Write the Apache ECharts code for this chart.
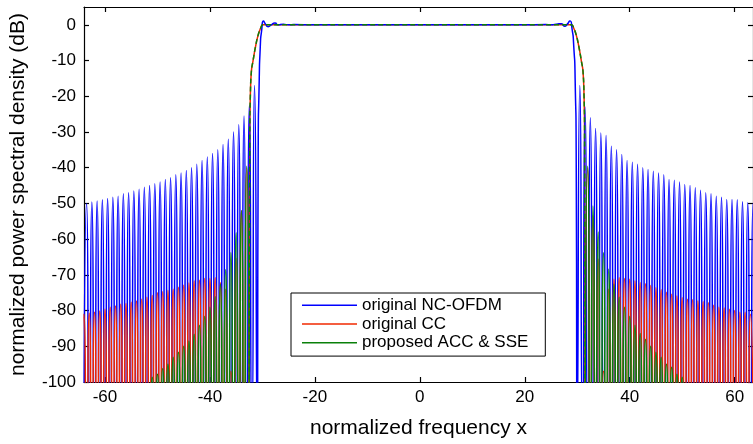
<!DOCTYPE html>
<html><head><meta charset="utf-8">
<script src="https://cdn.jsdelivr.net/npm/echarts@6/dist/echarts.min.js"></script>
<style>html,body{margin:0;padding:0;background:#fff}#c{width:753px;height:444px}</style>
</head><body><div id="c"></div>
<script>
// ---- tick labels ----
const xTicks = [-60, -40, -20, 0, 20, 40, 60];
const yTicks = [-100, -90, -80, -70, -60, -50, -40, -30, -20, -10, 0];
const xRange = [-64, 63.5];
const yRange = [-100, 5];
const nullDb = -115; // depth of spectral nulls (off the chart)

// ---- original NC-OFDM (blue) ----
// in-band + main edges, [x, dB]
const blueBand = [[-31,-115],[-30.8,-35],[-30.6,-15],[-30.4,-6],[-30.1,-1],[-29.8,1.1],[-29.4,0.2],[-28.9,-0.5],[-28.3,0],[-27.6,0.5],[-27,0],[-26,0.2],[-25,0],[-24,0.1],[-20,0],[-10,0],[0,0],[10,0],[20,0],[24,0.1],[25,0],[26,0.2],[27,0.3],[27.6,-0.4],[28.1,0.2],[28.6,1.1],[29,-1],[29.3,-5],[29.6,-15],[29.8,-35],[30,-115]];
// sidelobe peaks, left side from x=-31.5 outward (step 1)
const blueLeftPeaks = [-17,-22.5,-25.5,-28,-30,-32,-33.5,-35,-36,-37,-38,-39,-40,-40.8,-41.5,-42,-42.8,-43.3,-44,-44.5,-45,-45.5,-46,-46.5,-47,-47.3,-48,-48.3,-48.6,-49,-49.3,-49.6,-50];
// sidelobe peaks, right side from x=30.5 outward (step 1)
const blueRightPeaks = [-17,-23,-26,-29,-30.3,-31,-34,-35,-36.3,-38,-38.5,-39,-40,-40.5,-41,-41.5,-42,-43.3,-43.5,-44,-44.7,-45,-45.6,-46.3,-47,-47.3,-48,-48.3,-48.9,-48.9,-49,-49.5,-49.8,-50];

// ---- shared in-band + edge for original CC and proposed ACC & SSE ----
const ccBand = [[-32.5,-115],[-32.4,-30],[-32.3,-20],[-32.1,-13],[-31.8,-10.2],[-31.3,-6],[-30.8,-2.8],[-30.3,-0.8],[-29.9,0],[28.9,0],[29.3,-0.8],[29.8,-2.8],[30.3,-6],[30.8,-10.2],[31.1,-13],[31.3,-20],[31.4,-30],[31.5,-115]];

// ---- original CC (red) sidelobe peaks ----
// left from x=-33 outward, right from x=32 outward
const redLeftPeaks = [-40,-52,-65.4,-97,-74,-72.2,-70.8,-71,-71,-71.5,-71.7,-72.3,-72.9,-73.5,-74,-74.4,-74.7,-75,-75.8,-76.3,-76.8,-77.3,-77.7,-78,-78.2,-78.7,-79.1,-79.6,-80.1,-80.4,-80.7,-81];
const redRightPeaks = [-40,-53.5,-65.6,-97,-74,-71.2,-70.8,-71,-71.2,-71.7,-72.2,-72.5,-73,-73.6,-74.2,-74.9,-75.4,-75.9,-76.4,-76.8,-77,-77.3,-77.5,-77.8,-78.5,-79.1,-79.3,-79.6,-80,-80.5,-80.5,-81];

// ---- proposed ACC & SSE (green) sidelobe peaks ----
const greenLeftPeaks = [-39.6,-52,-58.2,-63.8,-68.6,-72.6,-76.1,-79.1,-81.6,-84.1,-86.6,-88.5,-90,-91.7,-93.1,-95,-96.2,-97.8,-98.7,-100.5];
const greenRightPeaks = [-39.6,-50.7,-58,-63.8,-68.4,-72.6,-76.3,-79.1,-81.6,-84.1,-86.4,-88,-90,-91.7,-93.1,-95,-95.9,-97.8,-98.7,-100.5];

const names = ['original NC-OFDM', 'original CC', 'proposed ACC & SSE'];
const colors = ['#0000ff', '#f02800', '#0a800a'];

// peaks[i] sits at firstX + dir*i, with a null half a step further out
function lobes(peaks, firstX, dir) {
  const pts = [];
  peaks.forEach((v, i) => {
    const x = firstX + dir * i;
    pts.push([x, v]);
    pts.push([x + dir * 0.5, nullDb]);
  });
  return pts;
}
const byX = (a, b) => a[0] - b[0];

const blueData = [].concat(lobes(blueLeftPeaks, -31.5, -1), blueBand, lobes(blueRightPeaks, 30.5, 1)).sort(byX);
const redLeft = [[-32.5, nullDb]].concat(lobes(redLeftPeaks, -33, -1)).sort(byX);
const redRight = [[31.5, nullDb]].concat(lobes(redRightPeaks, 32, 1)).sort(byX);
const greenLeft = [[-32.5, nullDb]].concat(lobes(greenLeftPeaks, -33, -1)).sort(byX);
const greenRight = [[31.5, nullDb]].concat(lobes(greenRightPeaks, 32, 1)).sort(byX);

const FONT = 'Liberation Sans, Arial, sans-serif';
const chart = echarts.init(document.getElementById('c'), null, {renderer: 'canvas'});

const axisLineStyle = {color: '#000', width: 1.2};
const lineSeries = (name, data, color, z, dashed, smooth) => ({
  type: 'line', name, data, z, symbol: 'none', smooth: smooth, animation: false,
  lineStyle: {color, width: 1.5, type: dashed ? [5, 3] : 'solid'},
  itemStyle: {color}
});

chart.setOption({
  animation: false,
  backgroundColor: '#fff',
  grid: {left: 83, top: 7, width: 673, height: 376, containLabel: false},
  legend: {
    data: names.map(n => ({name: n, icon: 'rect'})), orient: 'vertical', left: 291, top: 293,
    backgroundColor: '#fff', borderColor: '#000', borderWidth: 1,
    padding: [3, 17, 4, 11], itemWidth: 55, itemHeight: 1.5, itemGap: 0,
    textStyle: {fontFamily: FONT, fontSize: 17, color: '#000', lineHeight: 18.7}
  },
  xAxis: [{
    type: 'value', min: xRange[0], max: xRange[1], position: 'bottom',
    name: 'normalized frequency x', nameLocation: 'middle', nameGap: 36,
    nameTextStyle: {fontFamily: FONT, fontSize: 21, color: '#000'},
    axisLine: {onZero: false, lineStyle: axisLineStyle},
    axisTick: {inside: true, length: 5, lineStyle: axisLineStyle, customValues: xTicks},
    axisLabel: {customValues: xTicks, fontFamily: FONT, fontSize: 17, color: '#000', margin: 7},
    splitLine: {show: false}
  }, {
    type: 'value', min: xRange[0], max: xRange[1], position: 'top',
    axisLine: {onZero: false, lineStyle: axisLineStyle},
    axisTick: {inside: true, length: 5, lineStyle: axisLineStyle, customValues: xTicks},
    axisLabel: {show: false}, splitLine: {show: false}
  }],
  yAxis: [{
    type: 'value', min: yRange[0], max: yRange[1], position: 'left',
    name: 'normalized power spectral density (dB)', nameLocation: 'middle', nameGap: 55,
    nameTextStyle: {fontFamily: FONT, fontSize: 21, color: '#000'},
    axisLine: {onZero: false, lineStyle: axisLineStyle},
    axisTick: {inside: true, length: 5, lineStyle: axisLineStyle, customValues: yTicks},
    axisLabel: {customValues: yTicks, fontFamily: FONT, fontSize: 17, color: '#000', margin: 8},
    splitLine: {show: false}
  }, {
    type: 'value', min: yRange[0], max: yRange[1], position: 'right',
    axisLine: {onZero: false, lineStyle: axisLineStyle},
    axisTick: {inside: true, length: 5, lineStyle: axisLineStyle, customValues: yTicks},
    axisLabel: {show: false}, splitLine: {show: false}
  }],
  series: [
    lineSeries(names[0], blueData, colors[0], 2, false, 0.8),
    lineSeries('ccBandRed', ccBand, colors[1], 1, false, 0.5),
    lineSeries(names[1], redLeft, colors[1], 3, false, 0.8),
    lineSeries(names[1], redRight, colors[1], 3, false, 0.8),
    lineSeries(names[2], greenLeft, colors[2], 4, false, 0.8),
    lineSeries(names[2], greenRight, colors[2], 4, false, 0.8),
    lineSeries('ccBandGreen', ccBand, colors[2], 5, true, 0.5)
  ]
});
</script></body></html>
